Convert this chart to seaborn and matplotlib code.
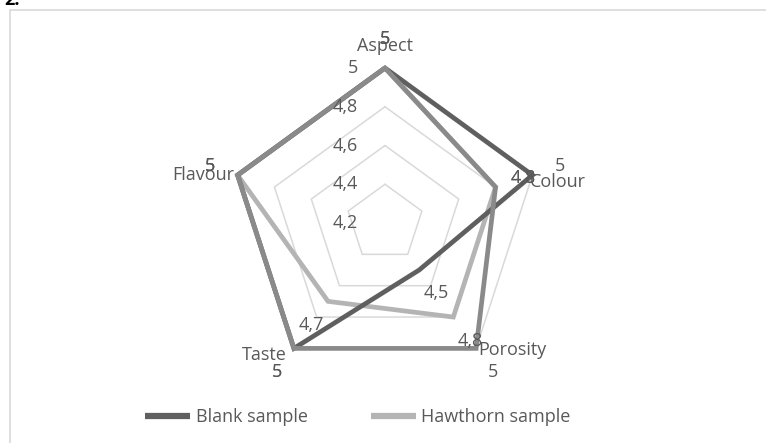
import numpy as np
import pandas as pd
import seaborn as sns
import matplotlib.pyplot as plt
from matplotlib.lines import Line2D
from matplotlib.patches import Rectangle

categories = ["Aspect", "Colour", "Porosity", "Taste", "Flavour"]
blank = [5, 5, 4.5, 5, 5]
hawthorn = [5, 4.8, 4.8, 4.7, 5]
third = [5, 4.8, 5, 5, 5]
ring_values = [4.4, 4.6, 4.8, 5.0]
tick_values = [4.2, 4.4, 4.6, 4.8, 5.0]
tick_labels = ["4,2", "4,4", "4,6", "4,8", "5"]

TXT = "#595959"
sns.set_theme(style="white")
plt.rcParams["font.family"] = ["Open Sans", "DejaVu Sans"]
FS = 13

fig = plt.figure(figsize=(7.66, 4.43), dpi=100)
W, H = 766, 443
cx, cy, R = 385, 223, 155
ax = fig.add_axes([(cx - R) / W, (H - cy - R) / H, 2 * R / W, 2 * R / H],
                  projection="polar")
ax.set_theta_zero_location("N")
ax.set_theta_direction(-1)
ax.set_ylim(4.2, 5)
ax.grid(False)
ax.spines["polar"].set_visible(False)
ax.set_xticks([])
ax.set_yticks([])
ax.patch.set_alpha(0)

n = len(categories)
theta = np.linspace(0, 2 * np.pi, n, endpoint=False)
theta_closed = np.append(theta, 2 * np.pi)

# grid pentagons
for r in ring_values:
    ax.plot(theta_closed, [r] * (n + 1), color="#d9d9d9", lw=1.1, clip_on=False, zorder=1)

# series (drawn light, dark, then medium on top)
rows = []
for name, vals in [("Hawthorn sample", hawthorn), ("Blank sample", blank), ("Series 3", third)]:
    vv = vals + [vals[0]]
    for t, v in zip(theta_closed, vv):
        rows.append({"theta": t, "value": v, "series": name})
df = pd.DataFrame(rows)
palette = {"Hawthorn sample": "#b4b4b4", "Blank sample": "#5f5f5f", "Series 3": "#8a8a8a"}
sns.lineplot(data=df, x="theta", y="value", hue="series", palette=palette, sort=False,
             estimator=None, lw=3.4, legend=False, ax=ax, zorder=3)
for line in ax.lines:
    line.set_clip_on(False)
    line.set_solid_joinstyle("miter")
ax.set_xlabel("")
ax.set_ylabel("")

# radial tick labels
for v, lab in zip(tick_values, tick_labels):
    ax.annotate(lab, xy=(0, v), xytext=(-27, 0), textcoords="offset pixels",
                ha="right", va="center", fontsize=FS, color=TXT, annotation_clip=False)

# data labels, pushed outward along each spoke
for vals in [blank, hawthorn, third]:
    for t, v in zip(theta, vals):
        dx, dy = 29 * np.sin(t), 29 * np.cos(t)
        lab = f"{v:g}".replace(".", ",")
        ax.annotate(lab, xy=(t, v), xytext=(dx, dy), textcoords="offset pixels",
                    ha="center", va="center", fontsize=FS, color=TXT,
                    annotation_clip=False, zorder=5)

# category labels
cat_off = [(0, 22), (-3, -7), (2, -2), (-7, -7), (-3, 0)]
cat_ha = ["center", "left", "left", "right", "right"]
for t, c, off, ha in zip(theta, categories, cat_off, cat_ha):
    ax.annotate(c, xy=(t, 5), xytext=off, textcoords="offset pixels",
                ha=ha, va="center", fontsize=FS, color=TXT, annotation_clip=False)

# legend
handles = [Line2D([], [], color=palette["Blank sample"], lw=4.5, solid_capstyle="butt"),
           Line2D([], [], color=palette["Hawthorn sample"], lw=4.5, solid_capstyle="butt")]
fig.legend(handles, ["Blank sample", "Hawthorn sample"], loc="center", ncol=2,
           bbox_to_anchor=(358 / W, 1 - 417 / H), frameon=False, fontsize=FS,
           labelcolor=TXT, handlelength=2.5, handletextpad=0.3, columnspacing=3.5)

# chart border and panel mark
fig.patches.append(Rectangle((10 / W, -0.05), 1.0, (H - 10) / H + 0.05,
                             transform=fig.transFigure, fill=False,
                             edgecolor="#d9d9d9", lw=1.2))
fig.text(4 / W, 1.0, "2.", fontsize=13, fontweight="bold", color="black",
         ha="left", va="center")

fig.savefig("out.png", dpi=100)
